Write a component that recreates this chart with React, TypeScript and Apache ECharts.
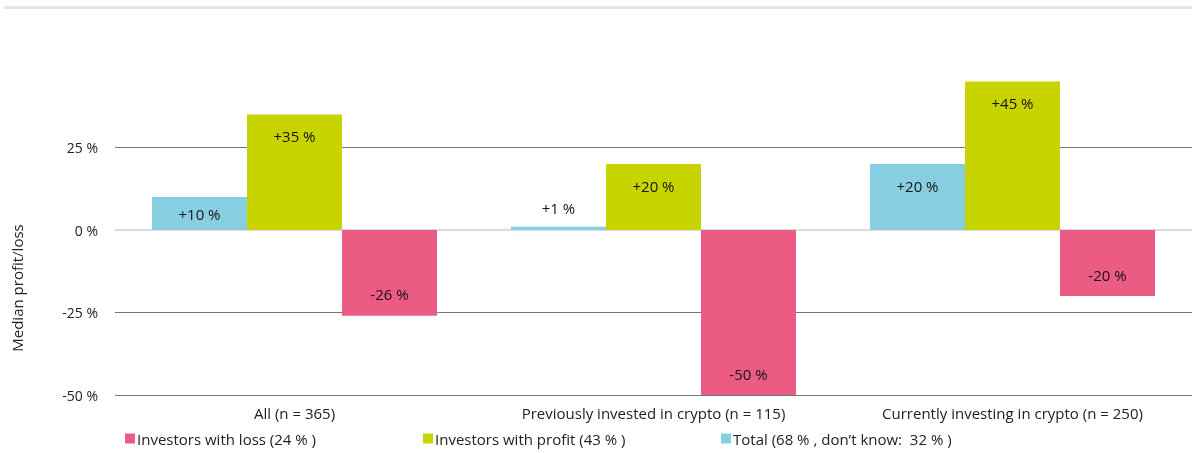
import React, { useEffect, useRef } from "react";
import * as echarts from "echarts";

const categories = ["All (n = 365)", "Previously invested in crypto (n = 115)", "Currently investing in crypto (n = 250)"];
const totalValues = [10, 1, 20];
const profitValues = [35, 20, 45];
const lossValues = [-26, -50, -20];
const seriesNames = ["Total (68 % , don’t know:  32 % )", "Investors with profit (43 % )", "Investors with loss (24 % )"];
const yTicks = [-50, -25, 0, 25, 50];

const BLUE = "#87cee3";
const GREEN = "#c8d400";
const PINK = "#eb5b84";
const FONT = "'Open Sans', sans-serif";
const FS = 15;

function fmt(v: number) {
  return (v > 0 ? "+" : "") + v + " %";
}

function items(values: number[]) {
  return values.map((v) => {
    let label: any;
    if (v < 0) label = { position: "insideBottom", distance: 14 };
    else if (v < 5) label = { position: "top", distance: 11 };
    else if (v < 15) label = { position: "inside" };
    else label = { position: "insideTop", distance: 14 };
    return { value: v, label };
  });
}

export default function App() {
  const ref = useRef<HTMLDivElement>(null);
  useEffect(() => {
    const chart = echarts.init(ref.current!, null, { renderer: "svg" });
    const labelCommon = {
      show: true,
      color: "#151515",
      fontSize: FS,
      fontFamily: FONT,
      formatter: (p: any) => fmt(p.value),
    };
    const colors = [BLUE, GREEN, PINK];
    const data = [totalValues, profitValues, lossValues];
    const legendOrder = [2, 1, 0];
    const legendLefts = [125, 423, 721];
    chart.setOption({
      animation: false,
      grid: { left: 115, right: -3, top: 65, bottom: 58, containLabel: false },
      graphic: [
        { type: "rect", shape: { x: 4, y: 6, width: 1188, height: 3 }, style: { fill: "#e6e6e6" }, silent: true },
        {
          type: "text",
          x: 17,
          y: 288,
          rotation: Math.PI / 2,
          style: { text: "Median profit/loss", fontSize: FS, fontFamily: FONT, fill: "#222", align: "center", verticalAlign: "middle" },
          silent: true,
        },
      ],
      legend: legendOrder.map((si, k) => ({
        data: [seriesNames[si]],
        left: legendLefts[k],
        top: 431,
        itemWidth: 10,
        itemHeight: 10,
        itemGap: 0,
        padding: 0,
        icon: "rect",
        selectedMode: false,
        textStyle: { fontSize: FS, fontFamily: FONT, color: "#222", padding: [0, 0, 0, -3] },
      })),
      xAxis: {
        type: "category",
        data: categories,
        axisLine: { show: false, onZero: false },
        axisTick: { show: false },
        axisLabel: { fontSize: FS, fontFamily: FONT, color: "#222", margin: 10 },
      },
      yAxis: {
        type: "value",
        min: yTicks[0],
        max: yTicks[yTicks.length - 1],
        interval: 25,
        axisLabel: { fontSize: FS - 1, fontFamily: FONT, color: "#222", margin: 17, formatter: (v: number) => v + " %", showMaxLabel: false },
        splitLine: { showMaxLine: false, lineStyle: { color: ["#777", "#777", "rgba(0,0,0,0)", "#777", "rgba(0,0,0,0)"], width: 1 } },
        axisLine: { show: false },
        axisTick: { show: false },
      },
      series: data.map((vals, i) => ({
        type: "bar",
        name: seriesNames[i],
        data: items(vals),
        barWidth: 95,
        barGap: "0%",
        itemStyle: { color: colors[i] },
        label: labelCommon,
        markLine:
          i === 0
            ? {
                silent: true,
                symbol: "none",
                label: { show: false },
                lineStyle: { color: "#dcdcdc", width: 2, type: "solid" },
                data: [{ yAxis: 0 }],
                z: 1,
              }
            : undefined,
      })),
    });
    return () => chart.dispose();
  }, []);
  return <div ref={ref} style={{ position: "fixed", left: 0, top: 0, width: 1192, height: 453 }} />;
}
